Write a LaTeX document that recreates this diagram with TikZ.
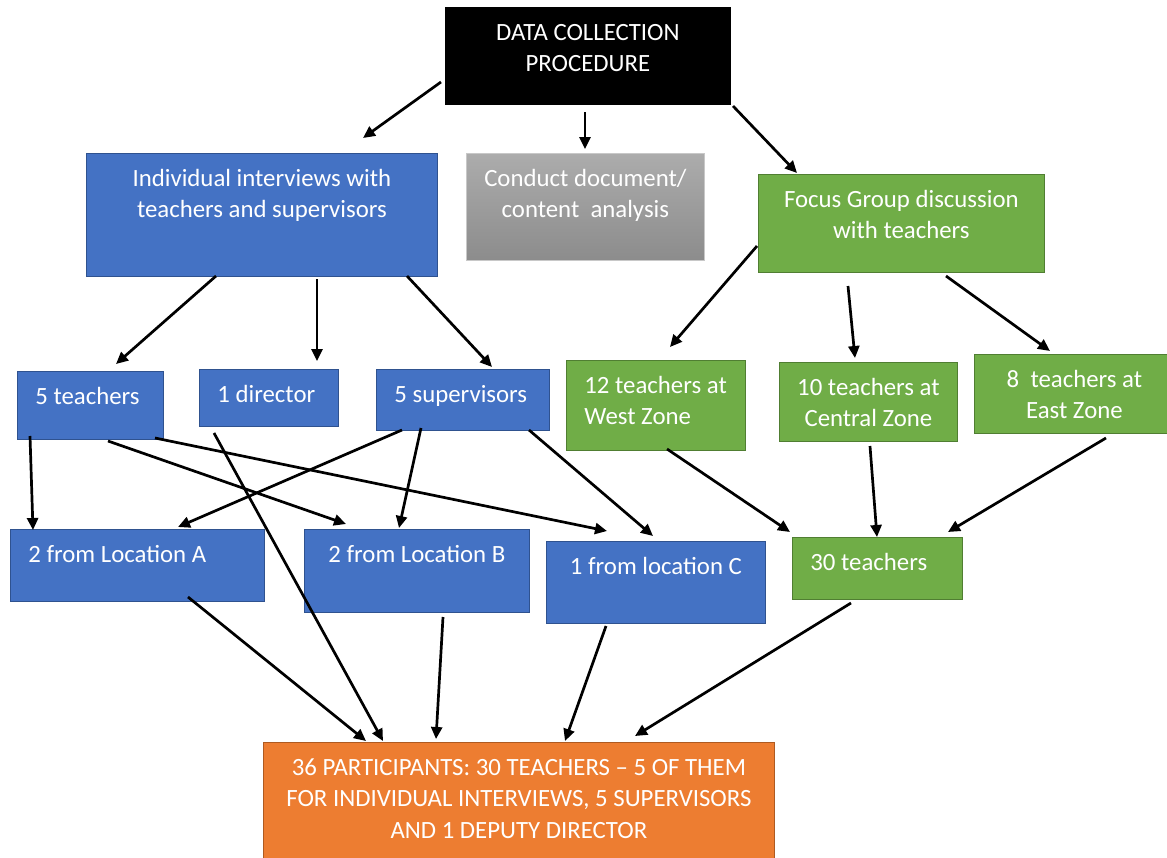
\documentclass[tikz,border=0pt]{standalone}
\usepackage{fontspec}
\setmainfont{Carlito}
\usetikzlibrary{arrows.meta}
\definecolor{ofblue}{HTML}{4472C4}
\definecolor{ofblueb}{HTML}{2F528F}
\definecolor{ofgreen}{HTML}{70AD47}
\definecolor{ofgreenb}{HTML}{507E32}
\definecolor{oforange}{HTML}{ED7D31}
\definecolor{oforangeb}{HTML}{AE5A21}
\definecolor{gtop}{RGB}{172,172,172}
\definecolor{gbot}{RGB}{140,140,140}
\definecolor{gbord}{RGB}{200,200,200}
\newcommand{\bxt}[4]{\parbox[c][#2pt][t]{#1pt}{#3\vspace*{13pt}\rule{0pt}{20pt}#4}}
\newcommand{\ctr}{\centering}
\newcommand{\lft}{\raggedright\leftskip=18pt\relax}
\begin{document}
\begin{tikzpicture}[x=1pt,y=-1pt,
  font=\fontsize{24.8}{31.5}\selectfont,
  box/.style={draw, line width=0.8pt, inner sep=0pt, anchor=north west, text=white},
  bluebox/.style={box, draw=ofblueb, fill=ofblue},
  greenbox/.style={box, draw=ofgreenb, fill=ofgreen},
  arr/.style={line width=2.7pt, -{Triangle[length=12pt,width=11pt]}}]
\useasboundingbox (0,0) rectangle (1167,857);
\fill[white] (0,0) rectangle (1167,857);
\clip (0,0) rectangle (1167,857);

% boxes
\node[box, draw=black, fill=black] (top) at (445,7) {\bxt{285}{97}{\ctr}{DATA COLLECTION\\PROCEDURE}};
\node[bluebox] (ind) at (86,153) {\bxt{351}{123}{\ctr}{Individual interviews with\\teachers and supervisors}};
\node[box, draw=gbord, top color=gtop, bottom color=gbot] (doc) at (466,153) {\bxt{238}{107}{\ctr}{Conduct document/\\content\ \ analysis}};
\node[greenbox] (fg) at (758,174) {\bxt{286}{98}{\ctr}{Focus Group discussion\\with teachers}};

\node[bluebox] (t5) at (17,371) {\bxt{146}{68}{\lft}{5 teachers}};
\node[bluebox] (dir) at (199,369) {\bxt{139}{57}{\lft}{1 director}};
\node[bluebox] (sup) at (376,369) {\bxt{173}{61}{\lft}{5 supervisors}};
\node[greenbox] (west) at (566,360) {\bxt{179}{90}{\lft}{12 teachers at\\West Zone}};
\node[greenbox] (cen) at (779,362) {\bxt{178}{79}{\ctr}{10 teachers at\\Central Zone}};
\node[greenbox] (east) at (974,354) {\bxt{200}{79}{\ctr}{8\ \ teachers at\\East Zone}};

\node[bluebox] (locA) at (10,529) {\bxt{254}{72}{\lft}{2 from Location A}};
\node[bluebox] (locB) at (304,529) {\bxt{225}{83}{\ctr}{2 from Location B}};
\node[bluebox] (locC) at (546,541) {\bxt{219}{82}{\ctr}{1 from location C}};
\node[greenbox] (t30) at (792,537) {\bxt{170}{62}{\lft}{30 teachers}};

\node[box, draw=oforangeb, fill=oforange] (tot) at (263,742) {\bxt{511}{130}{\ctr}{36 PARTICIPANTS: 30 TEACHERS – 5 OF THEM\\FOR INDIVIDUAL INTERVIEWS, 5 SUPERVISORS\\AND 1 DEPUTY DIRECTOR}};

% connectors
\draw[arr] ([shift={(-4,75)}]top.north west) -- ([shift={(277,-15)}]ind.north west);
\draw[arr] ([shift={(140,105)}]top.north west) -- ([shift={(119,-4)}]doc.north west);
\draw[arr] ([shift={(288,99)}]top.north west) -- ([shift={(39,-1)}]fg.north west);

\draw[arr] ([shift={(130,123)}]ind.north west) -- ([shift={(99,-7)}]t5.north west);
\draw[arr] ([shift={(231,126)}]ind.north west) -- ([shift={(118,-8)}]dir.north west);
\draw[arr] ([shift={(321,123)}]ind.north west) -- ([shift={(116,-2)}]sup.north west);

\draw[arr] ([shift={(-1,72)}]fg.north west) -- ([shift={(104,-13)}]west.north west);
\draw[arr] ([shift={(90,112)}]fg.north west) -- ([shift={(76,-4)}]cen.north west);
\draw[arr] ([shift={(188,102)}]fg.north west) -- ([shift={(76,-3)}]east.north west);

\draw[arr] ([shift={(13,65)}]t5.north west) -- ([shift={(23,1)}]locA.north west);
\draw[arr] ([shift={(91,70)}]t5.north west) -- ([shift={(42,-5)}]locB.north west);
\draw[arr] ([shift={(138,67)}]t5.north west) -- ([shift={(61,-10)}]locC.north west);

\draw[arr] ([shift={(26,61)}]sup.north west) -- ([shift={(168,-2)}]locA.north west);
\draw[arr] ([shift={(45,59)}]sup.north west) -- ([shift={(95,-1)}]locB.north west);
\draw[arr] ([shift={(153,61)}]sup.north west) -- ([shift={(107,-5)}]locC.north west);

\draw[arr] ([shift={(15,64)}]dir.north west) -- ([shift={(120,-1)}]tot.north west);

\draw[arr] ([shift={(101,89)}]west.north west) -- ([shift={(-2,-5)}]t30.north west);
\draw[arr] ([shift={(91,84)}]cen.north west) -- ([shift={(85,0)}]t30.north west);
\draw[arr] ([shift={(132,84)}]east.north west) -- ([shift={(156,-5)}]t30.north west);

\draw[arr] ([shift={(178,68)}]locA.north west) -- ([shift={(103,-1)}]tot.north west);
\draw[arr] ([shift={(139,88)}]locB.north west) -- ([shift={(173,-3)}]tot.north west);
\draw[arr] ([shift={(60,85)}]locC.north west) -- ([shift={(302,-1)}]tot.north west);
\draw[arr] ([shift={(59,66)}]t30.north west) -- ([shift={(372,-6)}]tot.north west);
\end{tikzpicture}
\end{document}
